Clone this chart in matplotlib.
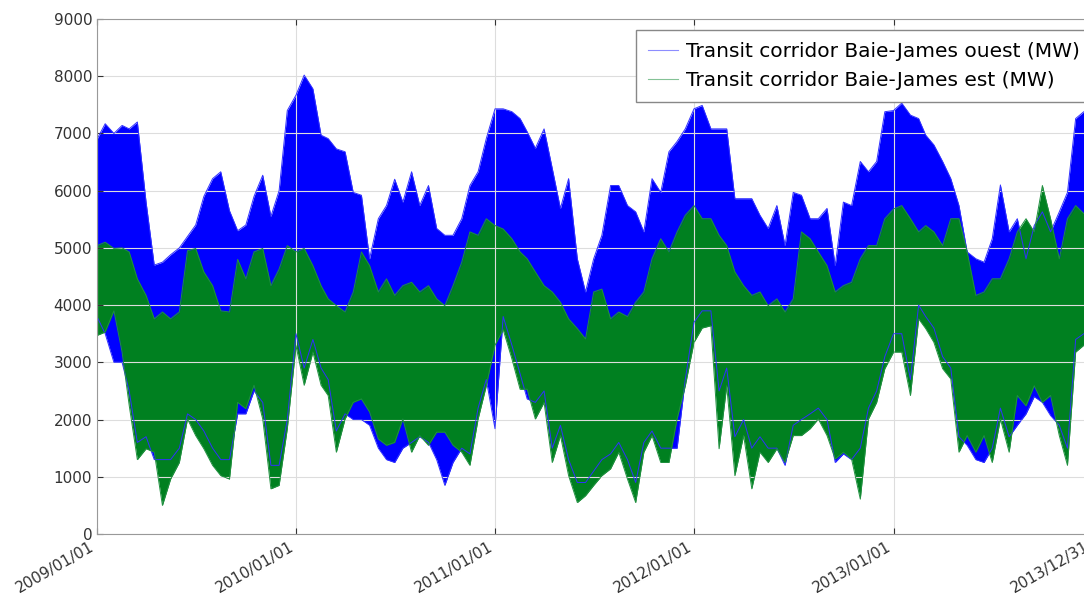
import datetime as dt
import matplotlib
matplotlib.use("Agg")
import matplotlib.pyplot as plt
import matplotlib.dates as mdates

# sample dates: 1st and 16th of each month, plus the last day
dates = [dt.datetime(y, m, d) for y in range(2009, 2014) for m in range(1, 13) for d in (1, 16)]
dates.append(dt.datetime(2013, 12, 31))

# envelope of the hourly series (MW), one row per year
ouest_max = [
    6900, 7170, 7000, 7140, 7080, 7200, 5800, 4700, 4750, 4880, 5000, 5200, 5400, 5900, 6210, 6330, 5650, 5300, 5400, 5900, 6270, 5550, 6000, 7400,
    7670, 8020, 7780, 6970, 6910, 6730, 6680, 5970, 5920, 4810, 5510, 5740, 6200, 5800, 6330, 5740, 6090, 5340, 5220, 5220, 5510, 6090, 6330, 6910,
    7430, 7430, 7380, 7260, 7030, 6740, 7080, 6390, 5690, 6210, 4810, 4230, 4810, 5220, 6090, 6090, 5740, 5630, 5280, 6210, 5970, 6680, 6860, 7080,
    7430, 7490, 7080, 7080, 7080, 5860, 5860, 5860, 5570, 5340, 5740, 5040, 5970, 5920, 5510, 5510, 5690, 4690, 5800, 5740, 6510, 6330, 6510, 7380,
    7400, 7530, 7320, 7260, 6970, 6800, 6510, 6210, 5740, 4930, 4810, 4750, 5160, 6100, 5280, 5510, 4810, 5390, 5630, 5280, 5630, 5970, 7260, 7380,
    7300]
ouest_min = [
    3800, 3500, 3000, 3000, 2500, 1600, 1700, 1300, 1300, 1300, 1500, 2100, 2000, 1800, 1500, 1300, 1300, 2100, 2100, 2500, 2300, 1200, 1200, 2000,
    3500, 2900, 3400, 2900, 2700, 1800, 2100, 2000, 2000, 1900, 1500, 1300, 1250, 1500, 1600, 1700, 1600, 1300, 850, 1250, 1500, 1400, 2200, 2700,
    1840, 3800, 3300, 2800, 2360, 2300, 2500, 1500, 1900, 1300, 900, 900, 1100, 1300, 1400, 1600, 1300, 900, 1600, 1800, 1500, 1500, 1500, 2700,
    3700, 3900, 3900, 2500, 2900, 1700, 2000, 1500, 1700, 1500, 1500, 1200, 1900, 2000, 2100, 2200, 2000, 1250, 1400, 1300, 1500, 2200, 2500, 3100,
    3500, 3500, 2700, 4000, 3800, 3600, 3100, 2900, 1700, 1550, 1300, 1250, 1500, 2200, 1700, 1900, 2100, 2400, 2300, 2070, 1900, 1500, 3400, 3500,
    3500]
est_max = [
    5040, 5100, 4990, 5000, 4930, 4460, 4170, 3760, 3880, 3760, 3880, 4950, 4990, 4580, 4340, 3900, 3880, 4800, 4460, 4930, 4990, 4340, 4630, 5040,
    4930, 4990, 4690, 4340, 4110, 3990, 3880, 4230, 4930, 4690, 4230, 4460, 4170, 4340, 4400, 4230, 4340, 4110, 3990, 4340, 4750, 5280, 5220, 5510,
    5390, 5330, 5160, 4930, 4810, 4580, 4340, 4230, 4050, 3760, 3590, 3410, 4230, 4280, 3760, 3880, 3800, 4050, 4230, 4810, 5160, 4930, 5280, 5570,
    5740, 5510, 5510, 5220, 5040, 4580, 4340, 4170, 4230, 3990, 4110, 3880, 4110, 5280, 5160, 4930, 4690, 4230, 4340, 4400, 4810, 5040, 5040, 5510,
    5680, 5740, 5510, 5280, 5390, 5280, 5040, 5510, 5510, 4930, 4170, 4230, 4460, 4460, 4810, 5280, 5510, 5280, 6090, 5510, 4810, 5510, 5740, 5600,
    5600]
est_min = [
    3470, 3530, 3900, 3180, 2250, 1300, 1490, 1430, 500, 960, 1250, 2010, 1720, 1490, 1200, 1020, 960, 2300, 2190, 2600, 2010, 790, 850, 1840,
    3290, 2600, 3180, 2600, 2420, 1430, 2010, 2300, 2360, 2130, 1660, 1550, 1600, 2010, 1430, 1720, 1550, 1780, 1780, 1550, 1430, 1200, 2010, 2590,
    3300, 3570, 3060, 2530, 2530, 2010, 2300, 1250, 1720, 1020, 550, 670, 850, 1020, 1140, 1430, 960, 550, 1430, 1720, 1250, 1250, 2010, 2590,
    3350, 3600, 3640, 1490, 2590, 1020, 1720, 790, 1430, 1250, 1490, 1250, 1720, 1720, 1840, 2010, 1720, 1310, 1430, 1310, 610, 2010, 2300, 2890,
    3180, 3180, 2420, 3760, 3590, 3350, 2890, 2710, 1430, 1720, 1430, 1720, 1250, 2010, 1430, 2420, 2240, 2590, 2300, 2420, 1720, 1200, 3180, 3300,
    3300]

labels = ["Transit corridor Baie-James ouest (MW)", "Transit corridor Baie-James est (MW)"]
tick_dates = [dt.datetime(2009, 1, 1), dt.datetime(2010, 1, 1), dt.datetime(2011, 1, 1),
              dt.datetime(2012, 1, 1), dt.datetime(2013, 1, 1), dt.datetime(2013, 12, 31)]

fig = plt.figure(figsize=(10.84, 5.95), dpi=100)
# axes run past the right edge, as in the reference crop
ax = fig.add_axes([97 / 1084, 61 / 595, 995 / 1084, 515 / 595])

ax.fill_between(dates, ouest_min, ouest_max, color="#0000ff", lw=0)
ax.plot(dates, ouest_max, color="#3030ff", lw=0.7, label=labels[0])
ax.plot(dates, ouest_min, color="#3030ff", lw=0.7)
ax.fill_between(dates, est_min, est_max, color="#008020", lw=0)
ax.plot(dates, est_max, color="#209040", lw=0.7, label=labels[1])
ax.plot(dates, est_min, color="#209040", lw=0.7)

ax.set_xlim(dt.datetime(2009, 1, 1), dt.datetime(2013, 12, 31))
ax.set_ylim(0, 9000)
ax.set_yticks(range(0, 9001, 1000))
ax.set_xticks(tick_dates)
ax.xaxis.set_major_formatter(mdates.DateFormatter("%Y/%m/%d"))
plt.setp(ax.get_xticklabels(), rotation=30, ha="right")
ax.tick_params(labelsize=11, direction="in", length=4, colors="#333333", top=True, right=True)
ax.grid(True, color="#dddddd", lw=0.8)
for s in ax.spines.values():
    s.set_color("#999999")

leg = ax.legend(loc="upper right", bbox_to_anchor=(1.0, 0.979), fontsize=14.5, fancybox=False,
                borderaxespad=0, borderpad=0.6, handlelength=1.5, handletextpad=0.4, framealpha=1)
leg.get_frame().set_edgecolor("#888888")
for h in leg.get_lines():
    h.set_linewidth(0.8)
    h.set_alpha(0.55)

fig.savefig("out.png", dpi=100)
